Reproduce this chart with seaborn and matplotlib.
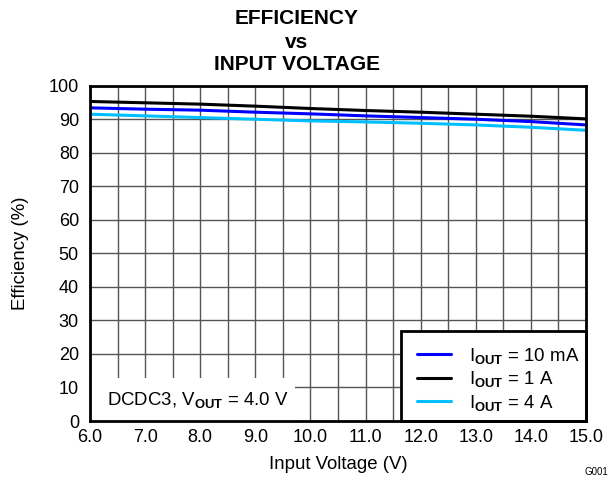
import numpy as np
import pandas as pd
import seaborn as sns
import matplotlib
matplotlib.use("Agg")
import matplotlib.pyplot as plt
from matplotlib.lines import Line2D
from matplotlib.patches import Rectangle
from matplotlib.ticker import MultipleLocator

# ---- data ----
vin = [6.0, 7.0, 8.0, 9.0, 10.0, 11.0, 12.0, 13.0, 14.0, 15.0]
eff_10mA = [93.4, 93.0, 92.7, 92.1, 91.6, 91.0, 90.5, 90.0, 89.3, 88.3]
eff_1A = [95.3, 94.9, 94.5, 93.9, 93.2, 92.6, 92.1, 91.5, 90.9, 90.1]
eff_4A = [91.5, 91.0, 90.5, 90.0, 89.5, 89.2, 88.8, 88.3, 87.6, 86.7]
series_names = ["10 mA", "1 A", "4 A"]
series_colors = ["#0000FF", "#000000", "#00BFFF"]
x_ticks = [6.0, 7.0, 8.0, 9.0, 10.0, 11.0, 12.0, 13.0, 14.0, 15.0]
y_ticks = [0, 10, 20, 30, 40, 50, 60, 70, 80, 90, 100]

df = pd.DataFrame({
    "vin": vin * 3,
    "eff": eff_10mA + eff_1A + eff_4A,
    "iout": [series_names[0]] * len(vin) + [series_names[1]] * len(vin) + [series_names[2]] * len(vin),
})

sns.set_theme(style="white")
plt.rcParams["font.family"] = ["Liberation Sans", "DejaVu Sans"]
plt.rcParams["mathtext.fontset"] = "custom"
plt.rcParams["mathtext.rm"] = "Liberation Sans"
plt.rcParams["mathtext.it"] = "Liberation Sans:italic"
plt.rcParams["mathtext.bf"] = "Liberation Sans:bold"
plt.rcParams["text.color"] = "black"
plt.rcParams["axes.labelcolor"] = "black"

FS = 13.4

fig = plt.figure(figsize=(6.09, 4.78), dpi=100)
ax = fig.add_axes([90 / 609, 1 - 421 / 478, 496 / 609, 335.3 / 478])

sns.lineplot(data=df, x="vin", y="eff", hue="iout", hue_order=series_names,
             palette=dict(zip(series_names, series_colors)), ax=ax,
             legend=False, linewidth=2.2, zorder=5)

ax.set_xlim(6.0, 15.0)
ax.set_ylim(0, 100)
ax.set_xticks(x_ticks)
ax.set_xticklabels([f"{t:.1f}" for t in x_ticks])
ax.xaxis.set_minor_locator(MultipleLocator(0.5))
ax.set_yticks(y_ticks)
ax.set_yticklabels([str(t) for t in y_ticks])
ax.grid(True, which="both", axis="x", color="#555555", linewidth=1.0, zorder=0)
ax.grid(True, which="major", axis="y", color="#555555", linewidth=1.0, zorder=0)
ax.set_axisbelow(True)
ax.tick_params(axis="both", which="both", length=0, labelsize=13, colors="black")
ax.tick_params(axis="y", pad=8)
ax.tick_params(axis="x", pad=6)
for s in ax.spines.values():
    s.set_linewidth(2.0)
    s.set_color("black")
    s.set_zorder(10)

ax.set_xlabel("Input Voltage (V)", fontsize=FS, labelpad=7, color="black")
ax.set_ylabel("Efficiency (%)", fontsize=FS, labelpad=14, color="black")

# white annotation box
ax.add_patch(Rectangle((0, 0), 0.413, 0.129, transform=ax.transAxes,
                       facecolor="white", edgecolor="none", zorder=2))
ax.text(0.035, 0.063, r"DCDC3, V$_{\mathbf{OUT}}$ = 4.0 V", transform=ax.transAxes,
        fontsize=FS, va="center", ha="left", zorder=3, color="black")

# legend frame + legend
ax.add_patch(Rectangle((0.628, 0), 0.372, 0.267, transform=ax.transAxes,
                       facecolor="white", edgecolor="black", linewidth=2.0,
                       zorder=9, clip_on=False))
handles = [Line2D([0], [0], color=c, linewidth=2.2) for c in series_colors]
labels = [r"I$_{\mathbf{OUT}}$ = " + n for n in series_names]
leg = ax.legend(handles, labels, loc="upper left", bbox_to_anchor=(0.659, 0.225),
                borderaxespad=0, fontsize=FS, frameon=False,
                handlelength=1.85, handletextpad=0.95, labelspacing=0.2,
                borderpad=0)
for t in leg.get_texts():
    t.set_color("black")
leg.set_zorder(11)

# title
for txt, yy in [("EFFICIENCY", 19), ("vs", 42), ("INPUT VOLTAGE", 64)]:
    fig.text(297 / 609, 1 - yy / 478, txt, ha="center", va="center",
             fontsize=15, fontweight="bold", color="black")
fig.text(596 / 609, 1 - 472 / 478, "G001", ha="center", va="center", fontsize=7,
         color="black")

fig.savefig("out.png", dpi=100)
